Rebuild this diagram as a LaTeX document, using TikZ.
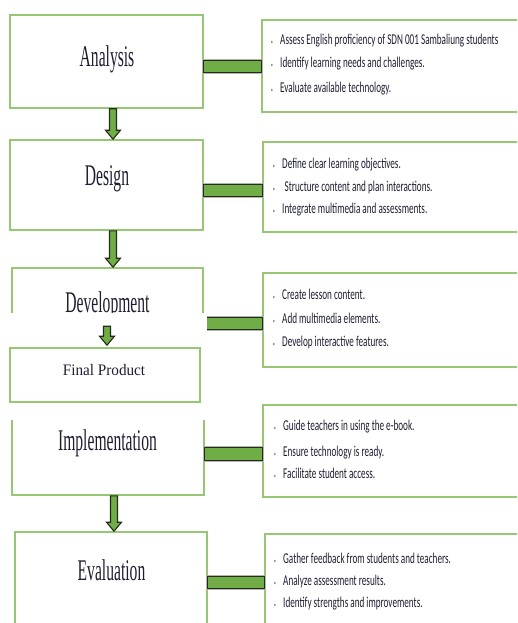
\documentclass[tikz,border=0pt]{standalone}
\usepackage{fontspec}
\setmainfont{Liberation Serif}
\newfontfamily\calib{Carlito}
\usetikzlibrary{calc}
\definecolor{boxgreen}{RGB}{150,200,115}
\definecolor{bargreen}{RGB}{112,173,71}
\definecolor{bardark}{RGB}{35,45,25}
\definecolor{txt}{RGB}{30,30,50}
\tikzset{
  box/.style={draw=boxgreen, line width=1.6pt, fill=white, inner sep=0pt},
  biglabel/.style={font=\fontsize{30}{30}\selectfont, text=txt, inner sep=0pt, anchor=base},
  fplabel/.style={font=\fontsize{16}{16}\selectfont, text=txt, inner sep=0pt, anchor=base},
  item/.style={font=\calib\fontsize{15}{15}\selectfont, text=txt, inner sep=0pt, anchor=base west},
  barstyle/.style={fill=bargreen, draw=bardark, line width=1.3pt, preaction={draw=black!30, line width=3.5pt}},
  blockarrow/.style={fill=bargreen, draw=bardark, line width=1.1pt, line join=miter},
}
\newcommand{\sq}[1]{\scalebox{0.52}[1]{#1}}
\newcommand{\bl}[1]{\scalebox{0.61}[1]{\makebox[0pt][r]{\textcolor{gray}{\fontsize{7}{7}\selectfont\textbullet}\hspace{12pt}}#1}}
\newcommand{\greenbar}[3]{\draw[barstyle] ($(#1.east |- #2.west)+(0,#3-6.2)$) rectangle ($(#2.west)+(0,#3+6.2)$);}
\newcommand{\blockdown}[2]{\draw[blockarrow] let \p1=(#1), \p2=(#2) in
  (\x1-3.5pt,\y1) -- (\x1+3.5pt,\y1) -- (\x1+3.5pt,\y2+9pt) -- (\x1+7.5pt,\y2+9pt) --
  (\x1,\y2) -- (\x1-7.5pt,\y2+9pt) -- (\x1-3.5pt,\y2+9pt) -- cycle;}
\begin{document}
\begin{tikzpicture}[x=1pt,y=-1pt]
\useasboundingbox (0,0) rectangle (517,623);
\clip (0,0) rectangle (517,623);
% left boxes
\node[box, minimum width=193pt, minimum height=93pt] (A) at (106.5,61.5) {};
\node[box, minimum width=193pt, minimum height=90pt] (D) at (106.5,185) {};
\node[box, minimum width=191pt, minimum height=92pt] (Dv) at (107.5,314) {};
\node[box, minimum width=192pt, minimum height=95pt] (I) at (108,447.5) {};
\node[box, minimum width=192pt, minimum height=98pt] (E) at (111,581) {};
% right boxes
\node[box, minimum width=268pt, minimum height=92pt] (R1) at (396,66) {};
\node[box, minimum width=267pt, minimum height=90pt] (R2) at (396.5,187) {};
\node[box, minimum width=267pt, minimum height=94pt] (R3) at (396.5,320) {};
\node[box, minimum width=267pt, minimum height=92pt] (R4) at (396.5,451) {};
\node[box, minimum width=265pt, minimum height=96pt] (R5) at (397.5,582) {};
% labels
\node[biglabel] (tA) at (107,67) {\sq{Analysis}};
\node[biglabel] (tD) at (107,185) {\sq{Design}};
\node[biglabel] (tDv) at (107.5,312) {\sq{Development}};
\node[biglabel] (tI) at (107.5,450) {\sq{Implementation}};
\node[biglabel] (tE) at (111.5,580) {\sq{Evaluation}};
% bars
\greenbar{A}{R1}{0.5}
\greenbar{D}{R2}{3.5}
\greenbar{Dv}{R3}{3.5}
\greenbar{I}{R4}{3}
\greenbar{E}{R5}{0.5}
% white patch cutting Development / Implementation
\fill[white] (0,313) rectangle (206.5,420);
% final product
\node[box, minimum width=190pt, minimum height=54pt] (FP) at (105,375) {};
\node[fplabel] (tFP) at (104,375) {\scalebox{0.95}[1]{Final Product}};
% arrows
\blockdown{$(A.south)+(6.5,0)$}{$(D.north)+(6.5,0)$}
\blockdown{$(D.south)+(6.5,0)$}{$(Dv.north)+(6.5,0)$}
\blockdown{$(FP.north)+(2,-21)$}{$(FP.north)+(2,-2)$}
\blockdown{$(I.south)+(6,0)$}{$(E.north)+(3,0)$}
% bullet texts
\node[item] (r1a) at (280,45) {\bl{Assess English proficiency of SDN 001 Sambaliung students}};
\node[item] (r1b) at (280,68) {\bl{Identify learning needs and challenges.}};
\node[item] (r1c) at (280,93) {\bl{Evaluate available technology.}};
\node[item] (r2a) at (282,168) {\bl{Define clear learning objectives.}};
\node[item] (r2b) at (282,191) {\bl{\hspace{4pt}Structure content and plan interactions.}};
\node[item] (r2c) at (282,213) {\bl{Integrate multimedia and assessments.}};
\node[item] (r3a) at (282,299) {\bl{Create lesson content.}};
\node[item] (r3b) at (282,323) {\bl{Add multimedia elements.}};
\node[item] (r3c) at (282,346) {\bl{Develop interactive features.}};
\node[item] (r4a) at (283,430) {\bl{Guide teachers in using the e-book.}};
\node[item] (r4b) at (283,456) {\bl{Ensure technology is ready.}};
\node[item] (r4c) at (283,478) {\bl{Facilitate student access.}};
\node[item] (r5a) at (283,563) {\bl{Gather feedback from students and teachers.}};
\node[item] (r5b) at (283,585) {\bl{Analyze assessment results.}};
\node[item] (r5c) at (283,607) {\bl{Identify strengths and improvements.}};
\end{tikzpicture}
\end{document}
